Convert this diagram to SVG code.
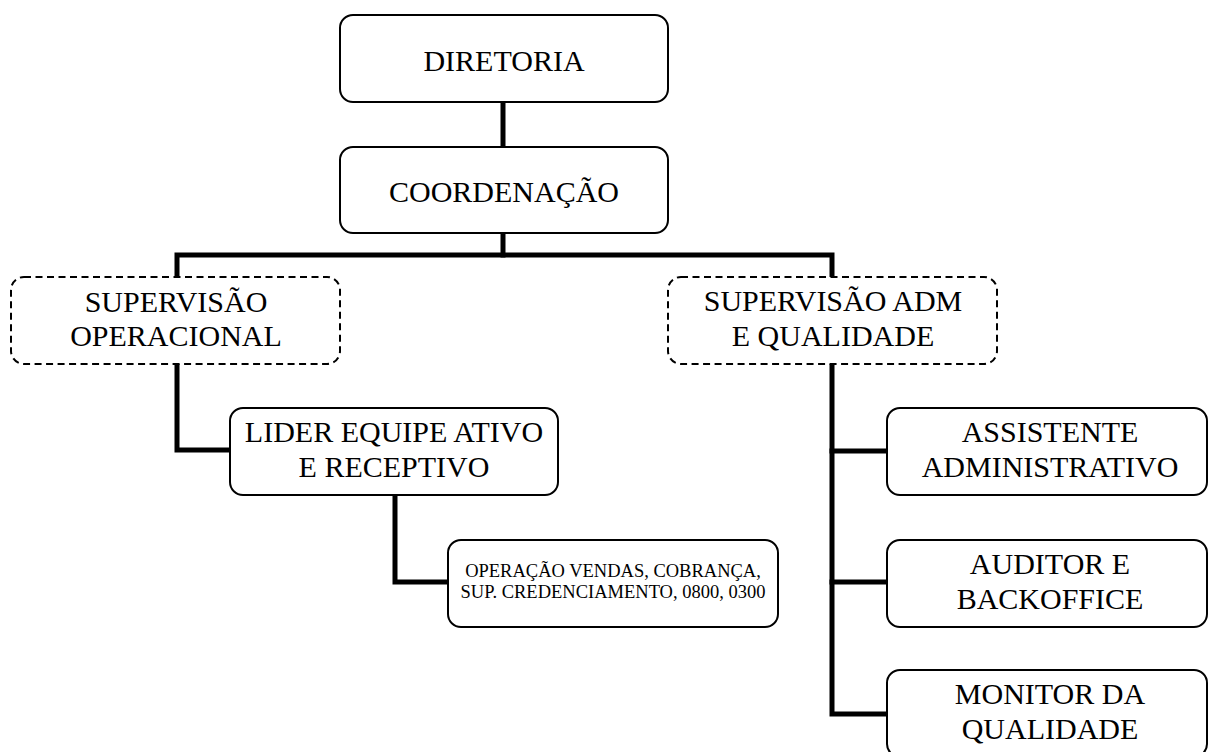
<svg xmlns="http://www.w3.org/2000/svg" width="1208" height="752" viewBox="0 0 1208 752">
<style>
.box{fill:#fff;stroke:#000;stroke-width:2}
.dash{fill:#fff;stroke:#000;stroke-width:2;stroke-dasharray:7 4.5}
.con{fill:none;stroke:#000;stroke-width:5;stroke-linejoin:miter;stroke-linecap:square}
text{font-family:"Liberation Serif","Times New Roman",serif;font-size:30px;fill:#000;text-anchor:middle}
.sm{font-size:18.5px}
</style>
<rect width="1208" height="752" fill="#fff"/>
<g id="connectors">
<line class="con" x1="503" y1="104" x2="503" y2="145"/>
<polyline class="con" points="503,235 503,255"/>
<polyline class="con" points="177,276 177,255 832,255 832,276"/>
<polyline class="con" points="177,366 177,450 228,450"/>
<polyline class="con" points="395,497 395,582 446,582"/>
<polyline class="con" points="832,366 832,714 885,714"/>
<line class="con" x1="832" y1="451" x2="885" y2="451"/>
<line class="con" x1="832" y1="582" x2="885" y2="582"/>
</g>
<g id="diretoria">
<rect class="box" x="340" y="15" width="328" height="87" rx="13"/>
<text x="504" y="71">DIRETORIA</text>
</g>
<g id="coordenacao">
<rect class="box" x="340" y="147" width="328" height="86" rx="13"/>
<text x="504" y="202">COORDENAÇÃO</text>
</g>
<g id="sup-operacional">
<rect class="dash" x="11" y="277" width="329" height="87" rx="13"/>
<text x="176" y="312">SUPERVISÃO</text>
<text x="176" y="346">OPERACIONAL</text>
</g>
<g id="sup-adm">
<rect class="dash" x="668" y="277" width="329" height="87" rx="13"/>
<text x="833" y="311">SUPERVISÃO ADM</text>
<text x="833" y="346">E QUALIDADE</text>
</g>
<g id="lider">
<rect class="box" x="230" y="408" width="328" height="87" rx="13"/>
<text x="394" y="442">LIDER EQUIPE ATIVO</text>
<text x="394" y="477">E RECEPTIVO</text>
</g>
<g id="operacao">
<rect class="box" x="448" y="540" width="330" height="87" rx="13"/>
<text class="sm" x="613" y="577">OPERAÇÃO VENDAS, COBRANÇA,</text>
<text class="sm" x="613" y="598">SUP. CREDENCIAMENTO, 0800, 0300</text>
</g>
<g id="assistente">
<rect class="box" x="887" y="408" width="320" height="87" rx="13"/>
<text x="1050" y="442">ASSISTENTE</text>
<text x="1050" y="477">ADMINISTRATIVO</text>
</g>
<g id="auditor">
<rect class="box" x="887" y="540" width="320" height="87" rx="13"/>
<text x="1050" y="574">AUDITOR E</text>
<text x="1050" y="609">BACKOFFICE</text>
</g>
<g id="monitor">
<rect class="box" x="887" y="670" width="320" height="87" rx="13"/>
<text x="1050" y="704">MONITOR DA</text>
<text x="1050" y="739">QUALIDADE</text>
</g>
</svg>
